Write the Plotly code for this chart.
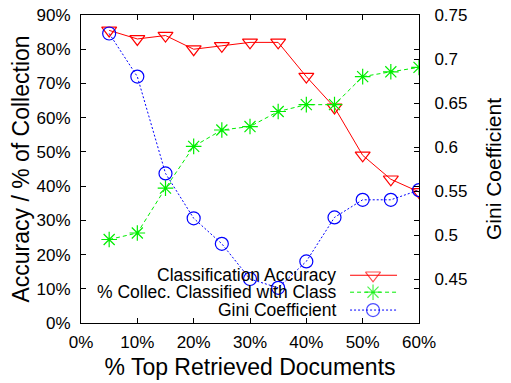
import plotly.graph_objects as go

top_docs = [5, 10, 15, 20, 25, 30, 35, 40, 45, 50, 55, 60]
accuracy = [85.5, 83, 84, 80, 81, 82, 82, 72, 63, 49, 42, 38.3]
collec_classified = [24.4, 26.3, 39.4, 51.6, 56.4, 57.4, 61.8, 63.8, 63.8, 72, 73.4, 74.7]
gini = [0.729, 0.680, 0.570, 0.519, 0.490, 0.450, 0.440, 0.470, 0.520, 0.540, 0.540, 0.551]

x_ticks = [0, 10, 20, 30, 40, 50, 60]
y_ticks = [0, 10, 20, 30, 40, 50, 60, 70, 80, 90]
y2_ticks = [0.45, 0.5, 0.55, 0.6, 0.65, 0.7, 0.75]
y2_labels = ["0.45", "0.5", "0.55", "0.6", "0.65", "0.7", "0.75"]

series_names = ["Classification Accuracy", "% Collec. Classified with Class", "Gini Coefficient"]

FONT = "Liberation Sans, Arial, Helvetica, sans-serif"
RED, GREEN, BLUE = "#ff0000", "#00ee00", "#0000ff"
DASHES = ["solid", "4px,3px", "2px,2px"]
SYMBOLS = ["triangle-down-open", "asterisk-open", "circle-open"]
COLORS = [RED, GREEN, BLUE]

fig = go.Figure()

for vals, name, col, dash, sym, yax in zip(
    [accuracy, collec_classified, gini], series_names, COLORS, DASHES, SYMBOLS, ["y", "y", "y2"]
):
    fig.add_trace(go.Scatter(
        x=top_docs, y=vals, mode="lines+markers", name=name, yaxis=yax,
        line=dict(color=col, width=1, dash=dash),
        marker=dict(symbol=sym, size=13, color=col, line=dict(width=1.2, color=col)),
    ))

# custom legend (symbol to the right of text, gnuplot style)
rows_y = [0.155, 0.100, 0.042]
for name, col, dash, sym, ry in zip(series_names, COLORS, DASHES, SYMBOLS, rows_y):
    fig.add_trace(go.Scatter(
        x=[0.796, 0.864, 0.935], y=[ry, ry, ry], xaxis="x3", yaxis="y3",
        mode="lines+markers", showlegend=False, hoverinfo="skip",
        line=dict(color=col, width=1, dash=dash),
        marker=dict(symbol=sym, size=[0, 13, 0], color=col, line=dict(width=1.2, color=col)),
    ))
    fig.add_annotation(
        x=0.760, y=ry, xref="paper", yref="paper", text=name, showarrow=False,
        xanchor="right", yanchor="middle", font=dict(family=FONT, size=17.5, color="black"),
    )

axis_common = dict(
    showgrid=False, zeroline=False, showline=True, linecolor="black", linewidth=1,
    ticks="inside", ticklen=5, tickcolor="black", tickwidth=1, automargin=False,
    tickfont=dict(family=FONT, size=17, color="black"), ticklabeloverflow="allow",
)

fig.update_layout(
    width=503, height=375,
    margin=dict(l=73, r=92, t=7, b=60),
    paper_bgcolor="white", plot_bgcolor="white",
    showlegend=False,
    font=dict(family=FONT, color="black"),
    xaxis=dict(
        range=[0, 60], tickvals=x_ticks, ticktext=[f"{v}%" for v in x_ticks],
        mirror="ticks", ticklabelstandoff=4,
        title=dict(text="% Top Retrieved Documents", font=dict(family=FONT, size=23), standoff=7),
        **axis_common,
    ),
    yaxis=dict(
        range=[0, 90], tickvals=y_ticks, ticktext=[f"{v}%" for v in y_ticks],
        mirror="ticks", ticklabelstandoff=6,
        title=dict(text="Accuracy / % of Collection", font=dict(family=FONT, size=23), standoff=0),
        **axis_common,
    ),
    yaxis2=dict(
        range=[0.4, 0.75], tickvals=y2_ticks, ticktext=y2_labels,
        overlaying="y", side="right", ticklabelstandoff=11,
        title=dict(text="Gini Coefficient", font=dict(family=FONT, size=21), standoff=19),
        **axis_common,
    ),
    xaxis3=dict(range=[0, 1], domain=[0, 1], visible=False, overlaying="x", anchor="y3"),
    yaxis3=dict(range=[0, 1], domain=[0, 1], visible=False, overlaying="y", anchor="x3"),
)

fig.write_html("out.html")
